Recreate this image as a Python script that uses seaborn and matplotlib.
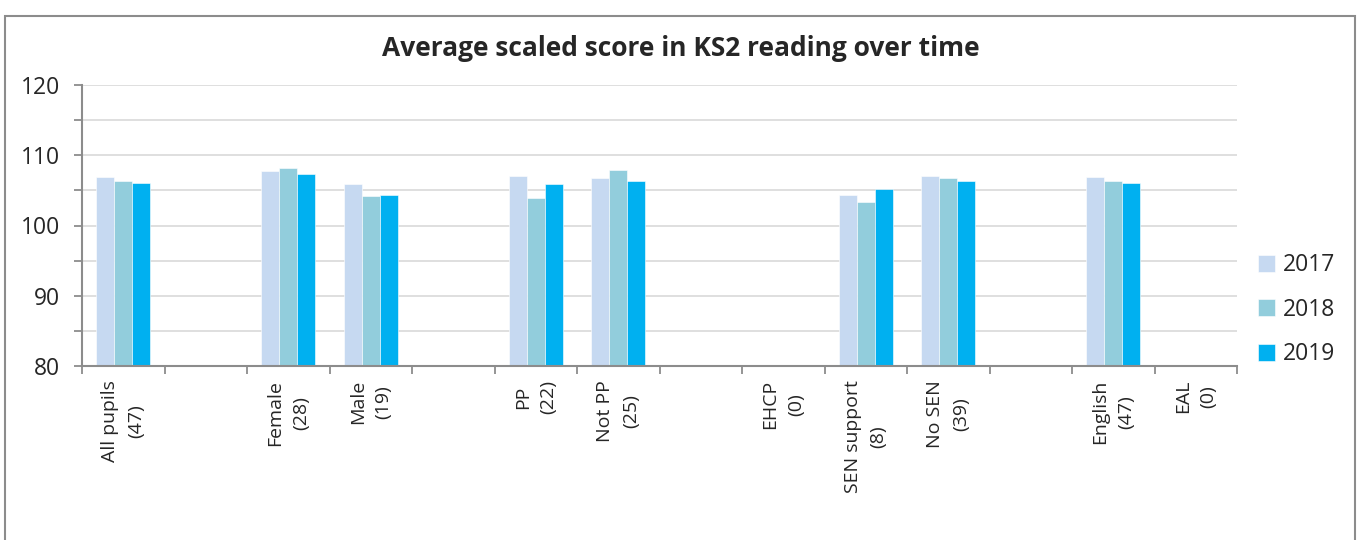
"""
Average scaled score in KS2 reading over time, by pupil group.
"""

import numpy as np
import pandas as pd
import matplotlib
matplotlib.use("Agg")
import matplotlib.pyplot as plt
from matplotlib.patches import Rectangle
from matplotlib.ticker import MultipleLocator, FixedLocator
import seaborn as sns

# Data (blank slots are spacers between groups)
categories = [
    "All pupils\n(47)", " ", "Female\n(28)", "Male\n(19)", "  ",
    "PP\n(22)", "Not PP\n(25)", "   ", "EHCP\n(0)", "SEN support\n(8)",
    "No SEN\n(39)", "    ", "English\n(47)", "EAL\n(0)",
]
years = ["2017", "2018", "2019"]
scores_2017 = [106.9, None, 107.8, 105.9, None, 107.1, 106.8, None, 0, 104.4, 107.0, None, 106.9, 0]
scores_2018 = [106.3, None, 108.2, 104.2, None, 103.9, 107.9, None, 0, 103.4, 106.8, None, 106.3, 0]
scores_2019 = [106.1, None, 107.3, 104.4, None, 105.9, 106.4, None, 0, 105.2, 106.3, None, 106.1, 0]

colors = {"2017": "#C6D9F1", "2018": "#92CDDC", "2019": "#00B0F0"}
AXIS_GREY = "#8c8c8c"
GRID_GREY = "#dcdcdc"

rows = []
for year, values in zip(years, [scores_2017, scores_2018, scores_2019]):
    for cat, val in zip(categories, values):
        rows.append({"Group": cat, "Year": year, "Score": np.nan if val is None else val})
df = pd.DataFrame(rows)

sns.set_style("white")
plt.rcParams["font.family"] = ["Open Sans", "DejaVu Sans"]

fig = plt.figure(figsize=(13.62, 5.40), dpi=100)
ax = fig.add_axes([82 / 1362, 1 - 366 / 540, (1237 - 82) / 1362, (366 - 85) / 540])

sns.barplot(
    data=df, x="Group", y="Score", hue="Year",
    order=categories, hue_order=years, palette=colors,
    width=0.66, saturation=1, errorbar=None, ax=ax,
    edgecolor="white", linewidth=0.4,
)

ax.set_ylim(80, 120)
ax.set_xlim(-0.5, len(categories) - 0.5)
ax.yaxis.set_major_locator(MultipleLocator(10))
ax.yaxis.set_minor_locator(FixedLocator([85, 95, 105, 115]))
ax.grid(axis="y", which="both", color=GRID_GREY, linewidth=1.3)
ax.set_axisbelow(True)

ax.set_xticks(range(len(categories)))
ax.set_xticklabels(categories, rotation=90, fontsize=14, multialignment="center",
                   linespacing=1.55)
ax.xaxis.set_minor_locator(FixedLocator(np.arange(-0.5, len(categories), 1)))
ax.tick_params(axis="x", which="major", length=0, pad=10)
ax.tick_params(axis="x", which="minor", length=6, width=1.3, color=AXIS_GREY, direction="out", bottom=True)
ax.tick_params(axis="y", which="both", length=6, width=1.3, color=AXIS_GREY, direction="out", left=True)
ax.tick_params(axis="y", which="major", labelsize=16.5, pad=10)

for side in ["top", "right"]:
    ax.spines[side].set_visible(False)
for side in ["left", "bottom"]:
    ax.spines[side].set_color(AXIS_GREY)
    ax.spines[side].set_linewidth(1.5)

ax.set_xlabel("")
ax.set_ylabel("")

fig.text(0.5, 1 - 49 / 540, "Average scaled score in KS2 reading over time",
         ha="center", va="center", fontsize=19, fontweight="bold")

ax.legend(
    loc="center left", bbox_to_anchor=(1.0, 0.20), frameon=False,
    fontsize=16.5, handlelength=0.75, handleheight=0.75, handletextpad=0.35,
    labelspacing=0.9, borderaxespad=0.5,
)

# outer chart border
fig.patches.append(Rectangle((5 / 1362, -0.02), 1350 / 1362, 1.005 - 8 / 540,
                             transform=fig.transFigure, fill=False,
                             edgecolor=AXIS_GREY, linewidth=1.5))

fig.savefig("out.png", dpi=100)
